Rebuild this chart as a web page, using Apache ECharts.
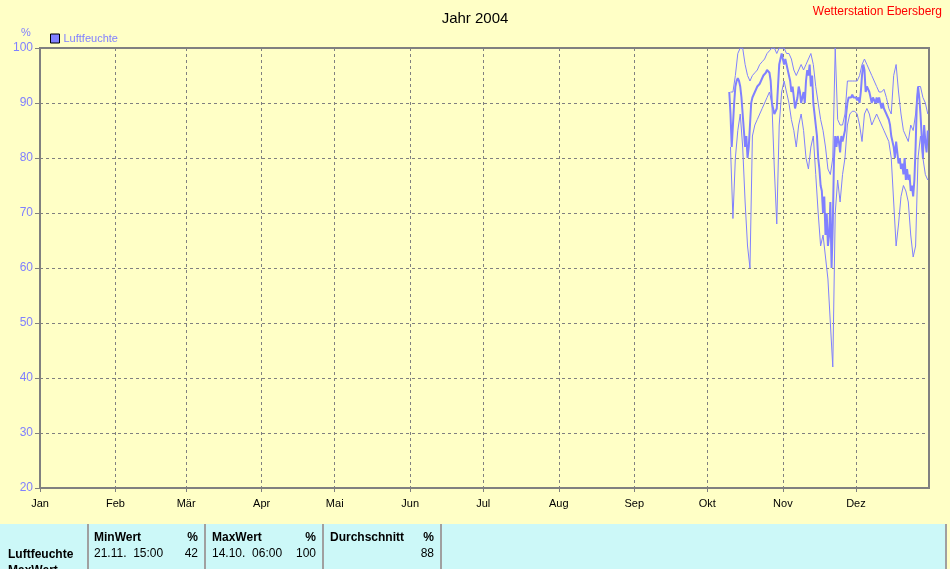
<!DOCTYPE html>
<html>
<head>
<meta charset="utf-8">
<script src="https://cdn.jsdelivr.net/npm/echarts@6/dist/echarts.min.js"></script>
<style>
html,body{margin:0;padding:0;background:#FFFFC6;}
#chart{width:950px;height:569px;}
</style>
</head>
<body>
<div id="chart"></div>
<script>
// ---- data ----
const monthsDe = ['Jan','Feb','Mär','Apr','Mai','Jun','Jul','Aug','Sep','Okt','Nov','Dez'];
const yTicks = [20,30,40,50,60,70,80,90,100];
const seriesStart = [2004, 9, 10]; // 10.10.2004
// humidity every 12 hours (00:00 and 12:00), from 10.10. to 30.12.
const humidity12h = [
  92,88, 82,86, 90,93, 94,94.5, 94,93, 91,88, 85,82, 84,80, 82,86, 90,91,
  91.5,92, 92.5,93, 93,93.5, 94,94.5, 95,95, 95.5,96, 96,95.5, 94,90, 89,88, 88,89,
  93,97, 98,99, 98,97, 98,97, 96,95, 94,92, 93,91, 89,90, 91,93, 92,90,
  91,92, 90,94, 96,95, 97,93, 95,90, 88,86, 84,80, 78,75, 74,70, 73,66,
  70,64, 66,72, 60,68, 80,84, 82,84, 83,81, 84,83, 84,85, 88,90, 91,91,
  91,91.5, 91,91, 91,90.5, 91,90, 92,95, 97,96, 92,93, 93,92, 91,90, 91,91,
  90,91, 90,91, 90,89, 90,89, 89,88, 88,87, 86,84, 84,82, 80,83, 81,79,
  80,78, 79,77, 80,76, 78,76, 77,74, 75,73, 76,82, 90,93, 91,88, 84,80,
  86,83, 81,85
];
// daily maxima (one per day, 10.10. - 30.12.)
const humidityMax = [
  92,92,95,99,100,100,97,95,94,95, 95.5,96,97,97.5,98,99,99.5,100,100,99,
  100,100,100,99,99,98,96,95,96,97, 96,97,98,99,97,93,90,87,85,82,
  78,77,80,100,87,86,86,88,94,94, 94,94,94,95,97,98,97,96,95,94,
  93,92,92,92.5,91,89,88,95,97,92, 88,85,84,83,86,85,88,93,93,91,
  90,88
];
// daily minima (one per day, 10.10. - 30.12.)
const humidityMin = [
  82,69,80,85,88,82,72,64,60,84, 86,87,88,89,90,91,92,90,78,68,
  86,92,94,92,90,87,85,82,86,88, 85,80,78,82,84,77,70,64,66,62,
  58,50,42,70,76,72,77,80,86,88, 88.5,88.5,88,86,83,88,89,88,86,87,
  88,87,86,85,84,83,80,72,64,68, 73,75,74,72,66,62,64,80,84,80,
  77,76
];
// statistics table
const statSeries = 'Luftfeuchte';
const statMin = {label:'MinWert', unit:'%', time:'21.11.  15:00', value:'42'};
const statMax = {label:'MaxWert', unit:'%', time:'14.10.  06:00', value:'100'};
const statAvg = {label:'Durchschnitt', unit:'%', value:'88'};

// ---- build series data ----
function d12(i){ return new Date(seriesStart[0], seriesStart[1], seriesStart[2], 12*i).getTime(); }
function dDay(i){ return new Date(seriesStart[0], seriesStart[1], seriesStart[2]+i, 12).getTime(); }
const data12 = humidity12h.map((v,i)=>[d12(i), v]);
const dataMax = humidityMax.map((v,i)=>[dDay(i), v]);
const dataMin = humidityMin.map((v,i)=>[dDay(i), v]);

const LINE = '#8080FF';
const GRAY = '#808080';
const FONT = '"Liberation Sans", Arial, sans-serif';

const chart = echarts.init(document.getElementById('chart'), null, {renderer:'canvas'});

function txt(x,y,text,opts){
  return Object.assign({type:'text', x:x, y:y, style:Object.assign({text:text, fill:'#000', font:'12px '+FONT, textVerticalAlign:'middle'}, opts||{})});
}
const tableY = 524;
const graphics = [
  {type:'rect', shape:{x:0,y:tableY,width:946,height:50}, style:{fill:'#CCF8F8', stroke:null}},
  {type:'line', shape:{x1:88,y1:tableY,x2:88,y2:569}, style:{stroke:'#A0A0A0', lineWidth:2}},
  {type:'line', shape:{x1:205,y1:tableY,x2:205,y2:569}, style:{stroke:'#A0A0A0', lineWidth:2}},
  {type:'line', shape:{x1:323,y1:tableY,x2:323,y2:569}, style:{stroke:'#A0A0A0', lineWidth:2}},
  {type:'line', shape:{x1:441,y1:tableY,x2:441,y2:569}, style:{stroke:'#A0A0A0', lineWidth:2}},
  {type:'line', shape:{x1:946,y1:tableY,x2:946,y2:569}, style:{stroke:'#A0A0A0', lineWidth:2}},
  txt(8, 555, statSeries, {font:'bold 12px '+FONT}),
  txt(8, 571, 'MaxWert', {font:'bold 12px '+FONT}),
  txt(94, 538, statMin.label, {font:'bold 12px '+FONT}),
  txt(198, 538, statMin.unit, {font:'bold 12px '+FONT, textAlign:'right'}),
  txt(94, 554, statMin.time, {}),
  txt(198, 554, statMin.value, {textAlign:'right'}),
  txt(212, 538, statMax.label, {font:'bold 12px '+FONT}),
  txt(316, 538, statMax.unit, {font:'bold 12px '+FONT, textAlign:'right'}),
  txt(212, 554, statMax.time, {}),
  txt(316, 554, statMax.value, {textAlign:'right'}),
  txt(330, 538, statAvg.label, {font:'bold 12px '+FONT}),
  txt(434, 538, statAvg.unit, {font:'bold 12px '+FONT, textAlign:'right'}),
  txt(434, 554, statAvg.value, {textAlign:'right'}),
  txt(26, 33, '%', {fill:LINE, font:'11px '+FONT, textAlign:'center'}),
  txt(942, 12, 'Wetterstation Ebersberg', {fill:'#FF0000', font:'12px '+FONT, textAlign:'right'})
];

const option = {
  backgroundColor:'#FFFFC6',
  animation:false,
  textStyle:{fontFamily:FONT},
  title:{text:'Jahr 2004', left:'center', top:6, textStyle:{fontSize:15, fontWeight:'normal', color:'#000', fontFamily:FONT}},
  legend:{
    left:50, top:33, padding:0, itemWidth:9, itemHeight:9, itemGap:6, icon:'rect',
    data:[{name:'Luftfeuchte', icon:'rect', itemStyle:{color:LINE, borderColor:'#000', borderWidth:1}}],
    textStyle:{color:LINE, fontSize:11, fontFamily:FONT, padding:[0,0,0,-1]}
  },
  grid:{left:40, top:48, right:21, bottom:81, show:true, borderColor:GRAY, borderWidth:2, backgroundColor:'transparent'},
  xAxis:{
    type:'time',
    min:new Date(2004,0,1).getTime(),
    max:new Date(2004,11,31).getTime(),
    minInterval:28*86400000, maxInterval:31*86400000,
    axisLine:{show:false},
    axisTick:{show:true, length:4, lineStyle:{color:GRAY}},
    axisLabel:{color:'#000', fontSize:11, margin:10, showMaxLabel:false, hideOverlap:false,
      formatter:function(v){ return monthsDe[new Date(v).getMonth()]; }},
    splitLine:{show:true, lineStyle:{color:GRAY, type:[3,3], width:1}}
  },
  yAxis:{
    type:'value', min:yTicks[0], max:yTicks[yTicks.length-1], interval:10,
    axisLine:{show:false},
    axisTick:{show:true, length:5, lineStyle:{color:GRAY}},
    axisLabel:{color:LINE, fontSize:12, margin:7},
    splitLine:{show:true, lineStyle:{color:GRAY, type:[3,3], width:1}}
  },
  series:[
    {name:'Luftfeuchte', type:'line', data:dataMax, showSymbol:false, symbol:'none', lineStyle:{color:LINE, width:1}, itemStyle:{color:LINE}},
    {name:'Luftfeuchte', type:'line', data:dataMin, showSymbol:false, symbol:'none', lineStyle:{color:LINE, width:1}, itemStyle:{color:LINE}},
    {name:'Luftfeuchte', type:'line', data:data12, showSymbol:false, symbol:'none', lineStyle:{color:LINE, width:2}, itemStyle:{color:LINE}}
  ],
  graphic:graphics
};
chart.setOption(option);
</script>
</body>
</html>
